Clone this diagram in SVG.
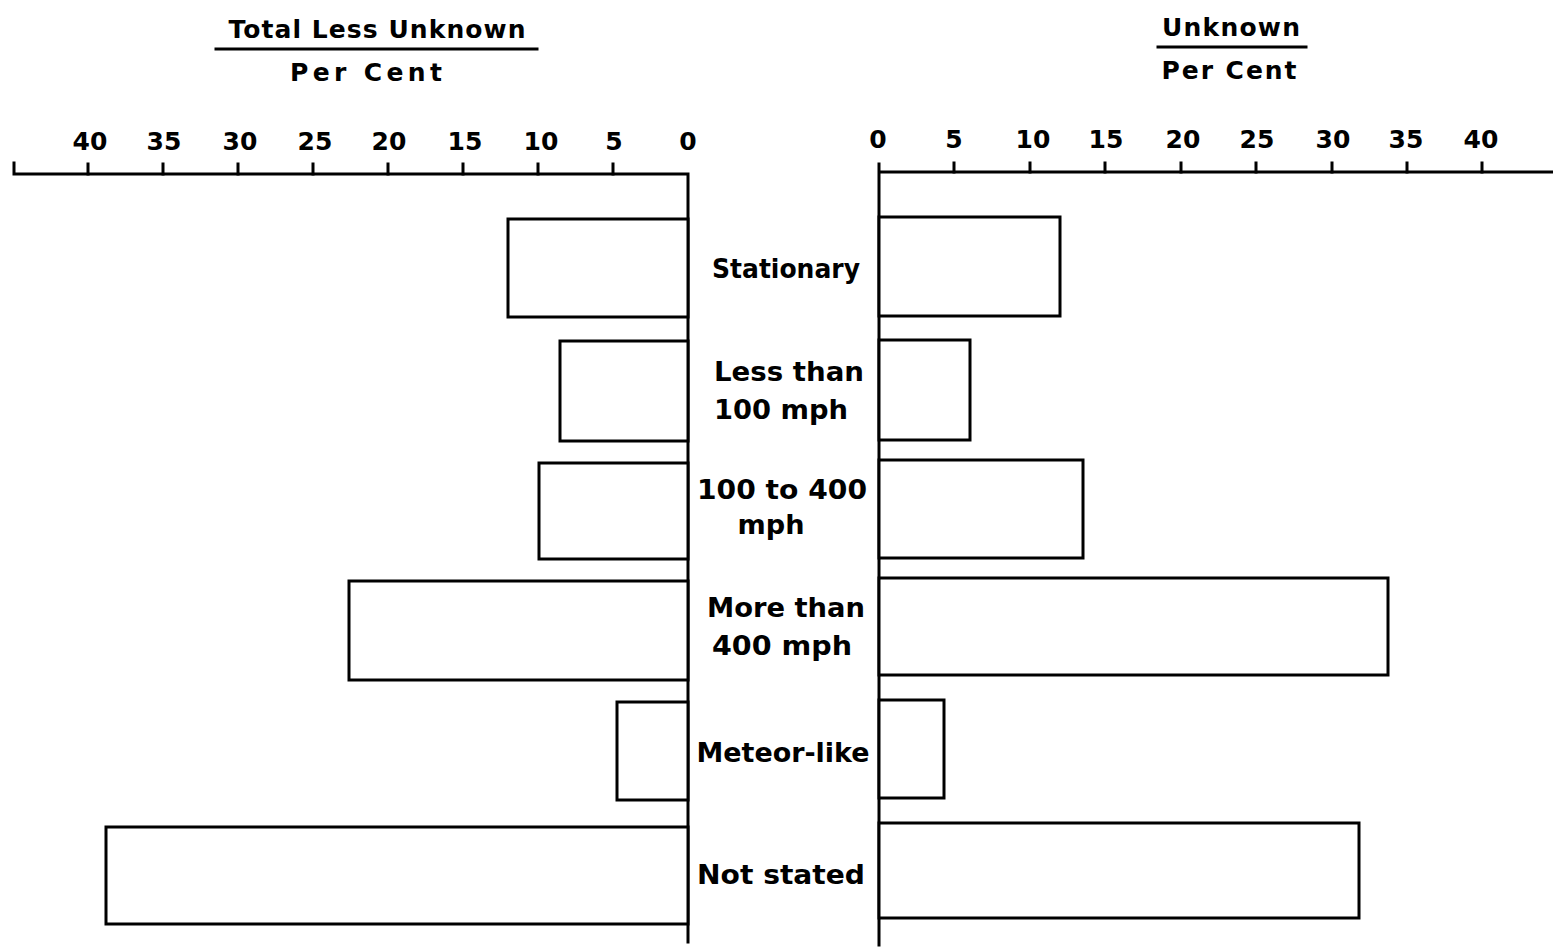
<svg xmlns="http://www.w3.org/2000/svg" width="1553" height="947" viewBox="0 0 1553 947">
<style>
.ax{stroke:#000;stroke-width:3;fill:none;stroke-linecap:square}
.bar{stroke:#000;stroke-width:3;fill:#fff}
text{font-family:"DejaVu Sans","Liberation Sans",sans-serif;font-weight:bold;font-size:26px;fill:#000;text-anchor:middle}
.tt{font-size:25px}
.tk{font-size:25px}
</style>
<rect width="1553" height="947" fill="#fff"/>
<g id="left-title">
<text class="tt" x="377" y="38" textLength="297" lengthAdjust="spacing">Total Less Unknown</text>
<line class="ax" x1="216" y1="49" x2="537" y2="49"/>
<text class="tt" x="366" y="81" textLength="152" lengthAdjust="spacing">Per Cent</text>
</g>
<g id="right-title">
<text class="tt" x="1231" y="36" textLength="138" lengthAdjust="spacing">Unknown</text>
<line class="ax" x1="1158" y1="47" x2="1306" y2="47"/>
<text class="tt" x="1229" y="79" textLength="135" lengthAdjust="spacing">Per Cent</text>
</g>
<g id="left-axis">
<path class="ax" d="M14 163 V174 H688 V942"/>
<path class="ax" d="M88 164V174 M163 164V174 M238 164V174 M313 164V174 M388 164V174 M463 164V174 M538 164V174 M613 164V174"/>
<text class="tk" x="90" y="150">40</text>
<text class="tk" x="164" y="150">35</text>
<text class="tk" x="240" y="150">30</text>
<text class="tk" x="315" y="150">25</text>
<text class="tk" x="389" y="150">20</text>
<text class="tk" x="465" y="150">15</text>
<text class="tk" x="541" y="150">10</text>
<text class="tk" x="614" y="150">5</text>
<text class="tk" x="688" y="150">0</text>
</g>
<g id="right-axis">
<path class="ax" d="M879 164 V945 M879 172 H1553"/>
<path class="ax" d="M954 163V172 M1030 163V172 M1105 163V172 M1181 163V172 M1256 163V172 M1332 163V172 M1407 163V172 M1482 163V172"/>
<text class="tk" x="878" y="148">0</text>
<text class="tk" x="954" y="148">5</text>
<text class="tk" x="1033" y="148">10</text>
<text class="tk" x="1106" y="148">15</text>
<text class="tk" x="1183" y="148">20</text>
<text class="tk" x="1257" y="148">25</text>
<text class="tk" x="1333" y="148">30</text>
<text class="tk" x="1406" y="148">35</text>
<text class="tk" x="1481" y="148">40</text>
</g>
<g id="bars-left">
<rect class="bar" x="508" y="219" width="180" height="98"/>
<rect class="bar" x="560" y="341" width="128" height="100"/>
<rect class="bar" x="539" y="463" width="149" height="96"/>
<rect class="bar" x="349" y="581" width="339" height="99"/>
<rect class="bar" x="617" y="702" width="71" height="98"/>
<rect class="bar" x="106" y="827" width="582" height="97"/>
</g>
<g id="bars-right">
<rect class="bar" x="879" y="217" width="181" height="99"/>
<rect class="bar" x="879" y="340" width="91" height="100"/>
<rect class="bar" x="879" y="460" width="204" height="98"/>
<rect class="bar" x="879" y="578" width="509" height="97"/>
<rect class="bar" x="879" y="700" width="65" height="98"/>
<rect class="bar" x="879" y="823" width="480" height="95"/>
</g>
<g id="labels">
<text x="786" y="278" textLength="148" lengthAdjust="spacingAndGlyphs">Stationary</text>
<text x="789" y="381" textLength="150" lengthAdjust="spacingAndGlyphs">Less than</text>
<text x="781" y="419" textLength="134" lengthAdjust="spacingAndGlyphs">100 mph</text>
<text x="782" y="499" textLength="170" lengthAdjust="spacingAndGlyphs">100 to 400</text>
<text x="771" y="534" textLength="67" lengthAdjust="spacingAndGlyphs">mph</text>
<text x="786" y="617" textLength="158" lengthAdjust="spacingAndGlyphs">More than</text>
<text x="782" y="655" textLength="140" lengthAdjust="spacingAndGlyphs">400 mph</text>
<text x="783" y="762" textLength="173" lengthAdjust="spacingAndGlyphs">Meteor-like</text>
<text x="781" y="884" textLength="168" lengthAdjust="spacingAndGlyphs">Not stated</text>
</g>
</svg>
